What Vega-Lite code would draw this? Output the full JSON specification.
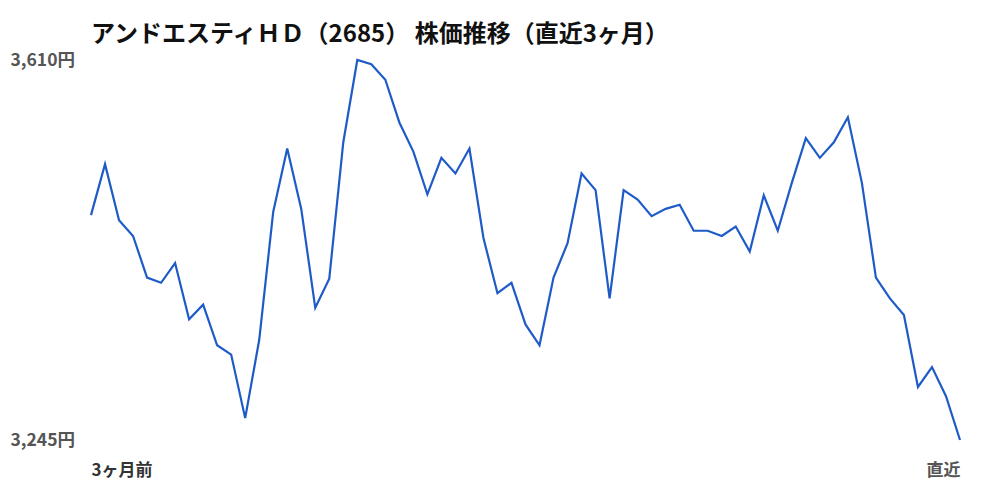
{
  "$schema": "https://vega.github.io/schema/vega-lite/v6.json",
  "width": 869,
  "height": 380,
  "autosize": "none",
  "padding": {"left": 91, "top": 60, "right": 40, "bottom": 60},
  "background": "white",
  "config": {"view": {"stroke": null}, "font": "Noto Sans CJK JP"},
  "title": {
    "text": "アンドエスティＨＤ（2685） 株価推移（直近3ヶ月）",
    "anchor": "start",
    "frame": "group",
    "fontSize": 24,
    "fontWeight": "bold",
    "color": "#111",
    "offset": 4
  },
  "data": {
    "values": [
      {"day": 0, "price": 3461}, {"day": 1, "price": 3510}, {"day": 2, "price": 3456},
      {"day": 3, "price": 3441}, {"day": 4, "price": 3401}, {"day": 5, "price": 3396},
      {"day": 6, "price": 3415}, {"day": 7, "price": 3361}, {"day": 8, "price": 3375},
      {"day": 9, "price": 3336}, {"day": 10, "price": 3327}, {"day": 11, "price": 3266},
      {"day": 12, "price": 3341}, {"day": 13, "price": 3464}, {"day": 14, "price": 3525},
      {"day": 15, "price": 3467}, {"day": 16, "price": 3372}, {"day": 17, "price": 3400},
      {"day": 18, "price": 3531}, {"day": 19, "price": 3610}, {"day": 20, "price": 3606},
      {"day": 21, "price": 3591}, {"day": 22, "price": 3550}, {"day": 23, "price": 3522},
      {"day": 24, "price": 3481}, {"day": 25, "price": 3516}, {"day": 26, "price": 3501},
      {"day": 27, "price": 3525}, {"day": 28, "price": 3439}, {"day": 29, "price": 3386},
      {"day": 30, "price": 3396}, {"day": 31, "price": 3356}, {"day": 32, "price": 3336},
      {"day": 33, "price": 3401}, {"day": 34, "price": 3434}, {"day": 35, "price": 3501},
      {"day": 36, "price": 3485}, {"day": 37, "price": 3381}, {"day": 38, "price": 3485},
      {"day": 39, "price": 3476}, {"day": 40, "price": 3460}, {"day": 41, "price": 3467},
      {"day": 42, "price": 3471}, {"day": 43, "price": 3446}, {"day": 44, "price": 3446},
      {"day": 45, "price": 3441}, {"day": 46, "price": 3450}, {"day": 47, "price": 3426},
      {"day": 48, "price": 3480}, {"day": 49, "price": 3446}, {"day": 50, "price": 3492},
      {"day": 51, "price": 3535}, {"day": 52, "price": 3516}, {"day": 53, "price": 3531},
      {"day": 54, "price": 3555}, {"day": 55, "price": 3492}, {"day": 56, "price": 3401},
      {"day": 57, "price": 3381}, {"day": 58, "price": 3365}, {"day": 59, "price": 3296},
      {"day": 60, "price": 3315}, {"day": 61, "price": 3287}, {"day": 62, "price": 3245}
    ]
  },
  "mark": {"type": "line", "color": "#1f5bc7", "strokeWidth": 2.2},
  "encoding": {
    "x": {
      "field": "day",
      "type": "quantitative",
      "scale": {"domain": [0, 62], "nice": false, "zero": false},
      "axis": {
        "title": null,
        "values": [0, 62],
        "labelExpr": "datum.value == 0 ? '3ヶ月前' : '直近'",
        "labelFlush": true,
        "labelFontSize": 17,
        "labelFontWeight": "bold",
        "labelColor": {"expr": "datum.value == 0 ? '#333' : '#555'"},
        "labelPadding": 22,
        "domain": false,
        "ticks": false,
        "grid": false
      }
    },
    "y": {
      "field": "price",
      "type": "quantitative",
      "scale": {"domain": [3245, 3610], "nice": false, "zero": false},
      "axis": {
        "title": null,
        "values": [3245, 3610],
        "labelExpr": "format(datum.value, ',') + '円'",
        "labelAlign": "left",
        "labelPadding": 81,
        "labelFontSize": 17.5,
        "labelFontWeight": "bold",
        "labelColor": "#555",
        "domain": false,
        "ticks": false,
        "grid": false
      }
    }
  }
}
